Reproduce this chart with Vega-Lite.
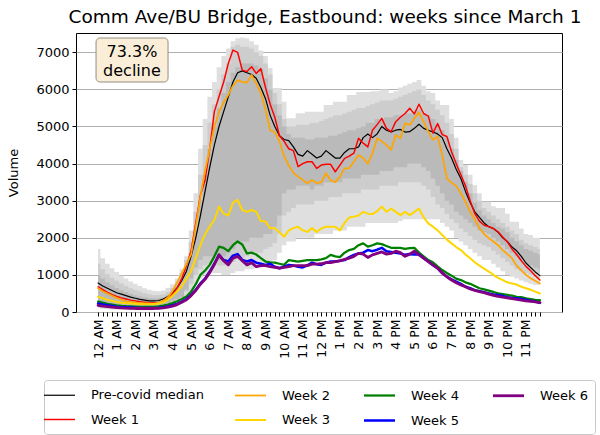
{
"$schema": "https://vega.github.io/schema/vega-lite/v6.json",
"autosize": "none",
"width": 486, "height": 279,
"padding": {"left": 76, "top": 33, "right": 38, "bottom": 123},
"background": "white",
"title": {"text": "Comm Ave/BU Bridge, Eastbound: weeks since March 1", "fontSize": 18.5, "font": "DejaVu Sans", "fontWeight": "normal", "color": "black", "offset": 7, "dx": 6},
"data": {"values": [
{"t":0,"m":780,"w1":680,"w2":640,"w3":410,"w4":280,"w5":230,"w6":180,"a1":100,"b1":1700,"a2":150,"b2":1300,"a3":250,"b3":1000},
{"t":0.25,"m":700,"w1":600,"w2":560,"w3":370,"w4":250,"w5":200,"w6":160,"a1":90,"b1":1450,"a2":130,"b2":1150,"a3":220,"b3":900},
{"t":0.5,"m":640,"w1":530,"w2":500,"w3":330,"w4":220,"w5":180,"w6":145,"a1":80,"b1":1300,"a2":115,"b2":1020,"a3":190,"b3":800},
{"t":0.75,"m":580,"w1":470,"w2":440,"w3":300,"w4":200,"w5":160,"w6":130,"a1":70,"b1":1180,"a2":100,"b2":920,"a3":170,"b3":720},
{"t":1,"m":520,"w1":420,"w2":380,"w3":270,"w4":180,"w5":140,"w6":120,"a1":65,"b1":1080,"a2":95,"b2":840,"a3":155,"b3":650},
{"t":1.25,"m":480,"w1":380,"w2":330,"w3":250,"w4":165,"w5":130,"w6":110,"a1":60,"b1":980,"a2":90,"b2":770,"a3":145,"b3":590},
{"t":1.5,"m":440,"w1":350,"w2":290,"w3":240,"w4":155,"w5":125,"w6":105,"a1":55,"b1":900,"a2":85,"b2":700,"a3":135,"b3":540},
{"t":1.75,"m":400,"w1":320,"w2":270,"w3":230,"w4":150,"w5":120,"w6":100,"a1":50,"b1":820,"a2":80,"b2":640,"a3":125,"b3":490},
{"t":2,"m":370,"w1":300,"w2":250,"w3":220,"w4":145,"w5":115,"w6":95,"a1":50,"b1":760,"a2":80,"b2":590,"a3":120,"b3":450},
{"t":2.25,"m":340,"w1":280,"w2":240,"w3":210,"w4":140,"w5":110,"w6":95,"a1":50,"b1":700,"a2":80,"b2":550,"a3":120,"b3":420},
{"t":2.5,"m":320,"w1":260,"w2":230,"w3":210,"w4":140,"w5":110,"w6":95,"a1":50,"b1":640,"a2":80,"b2":510,"a3":120,"b3":400},
{"t":2.75,"m":300,"w1":250,"w2":230,"w3":210,"w4":140,"w5":110,"w6":95,"a1":50,"b1":600,"a2":80,"b2":480,"a3":120,"b3":380},
{"t":3,"m":300,"w1":240,"w2":220,"w3":210,"w4":140,"w5":110,"w6":95,"a1":55,"b1":570,"a2":85,"b2":460,"a3":125,"b3":370},
{"t":3.25,"m":310,"w1":250,"w2":250,"w3":230,"w4":150,"w5":115,"w6":100,"a1":60,"b1":560,"a2":90,"b2":460,"a3":135,"b3":370},
{"t":3.5,"m":350,"w1":280,"w2":300,"w3":260,"w4":170,"w5":130,"w6":110,"a1":80,"b1":580,"a2":110,"b2":480,"a3":170,"b3":390},
{"t":3.75,"m":420,"w1":350,"w2":400,"w3":330,"w4":200,"w5":150,"w6":130,"a1":110,"b1":650,"a2":150,"b2":540,"a3":230,"b3":440},
{"t":4,"m":520,"w1":480,"w2":560,"w3":440,"w4":240,"w5":180,"w6":160,"a1":150,"b1":750,"a2":200,"b2":650,"a3":300,"b3":550},
{"t":4.25,"m":650,"w1":650,"w2":800,"w3":560,"w4":290,"w5":220,"w6":200,"a1":200,"b1":900,"a2":280,"b2":800,"a3":350,"b3":700},
{"t":4.5,"m":850,"w1":900,"w2":1050,"w3":700,"w4":350,"w5":280,"w6":260,"a1":300,"b1":1150,"a2":400,"b2":1050,"a3":400,"b3":900},
{"t":4.75,"m":1100,"w1":1250,"w2":1300,"w3":900,"w4":420,"w5":350,"w6":330,"a1":400,"b1":1500,"a2":550,"b2":1400,"a3":600,"b3":1200},
{"t":5,"m":1500,"w1":1650,"w2":1550,"w3":1100,"w4":550,"w5":460,"w6":440,"a1":550,"b1":2200,"a2":750,"b2":1900,"a3":900,"b3":1600},
{"t":5.25,"m":2000,"w1":2400,"w2":2300,"w3":1450,"w4":750,"w5":600,"w6":580,"a1":750,"b1":3200,"a2":1000,"b2":2700,"a3":1200,"b3":2200},
{"t":5.5,"m":2600,"w1":3150,"w2":3100,"w3":1800,"w4":1000,"w5":770,"w6":750,"a1":900,"b1":4400,"a2":1150,"b2":3700,"a3":1400,"b3":3000},
{"t":5.75,"m":3250,"w1":3550,"w2":3800,"w3":2100,"w4":1120,"w5":900,"w6":880,"a1":1000,"b1":5200,"a2":1250,"b2":4500,"a3":1500,"b3":3700},
{"t":6,"m":3900,"w1":4400,"w2":4400,"w3":2300,"w4":1270,"w5":1090,"w6":1060,"a1":1050,"b1":5800,"a2":1300,"b2":5100,"a3":1500,"b3":4400},
{"t":6.25,"m":4500,"w1":5400,"w2":5000,"w3":2480,"w4":1500,"w5":1300,"w6":1280,"a1":1050,"b1":6200,"a2":1300,"b2":5600,"a3":1500,"b3":5000},
{"t":6.5,"m":5000,"w1":5800,"w2":5400,"w3":2840,"w4":1760,"w5":1540,"w6":1540,"a1":1050,"b1":6600,"a2":1250,"b2":6000,"a3":1400,"b3":5500},
{"t":6.75,"m":5400,"w1":6200,"w2":5650,"w3":2650,"w4":1730,"w5":1400,"w6":1380,"a1":1000,"b1":6900,"a2":1250,"b2":6400,"a3":1500,"b3":5900},
{"t":7,"m":5800,"w1":6700,"w2":5850,"w3":2600,"w4":1640,"w5":1360,"w6":1270,"a1":1000,"b1":7100,"a2":1300,"b2":6700,"a3":1600,"b3":6200},
{"t":7.25,"m":6200,"w1":7060,"w2":6100,"w3":2950,"w4":1800,"w5":1520,"w6":1450,"a1":1050,"b1":7300,"a2":1350,"b2":7150,"a3":1700,"b3":6450},
{"t":7.5,"m":6450,"w1":7000,"w2":6250,"w3":3020,"w4":1900,"w5":1560,"w6":1500,"a1":1100,"b1":7380,"a2":1450,"b2":7200,"a3":1900,"b3":6600},
{"t":7.75,"m":6500,"w1":6520,"w2":6200,"w3":2750,"w4":1820,"w5":1400,"w6":1380,"a1":1100,"b1":7400,"a2":1450,"b2":7150,"a3":1900,"b3":6700},
{"t":8,"m":6450,"w1":6480,"w2":6180,"w3":2700,"w4":1580,"w5":1360,"w6":1270,"a1":1150,"b1":7380,"a2":1500,"b2":7150,"a3":1900,"b3":6700},
{"t":8.25,"m":6400,"w1":6610,"w2":6390,"w3":2750,"w4":1600,"w5":1400,"w6":1330,"a1":1150,"b1":7300,"a2":1550,"b2":7100,"a3":2000,"b3":6700},
{"t":8.5,"m":6300,"w1":6430,"w2":6160,"w3":2700,"w4":1550,"w5":1330,"w6":1220,"a1":1200,"b1":7200,"a2":1600,"b2":7000,"a3":2000,"b3":6650},
{"t":8.75,"m":6050,"w1":6560,"w2":5900,"w3":2450,"w4":1450,"w5":1300,"w6":1250,"a1":1200,"b1":7050,"a2":1600,"b2":6900,"a3":2000,"b3":6550},
{"t":9,"m":5750,"w1":6050,"w2":5450,"w3":2440,"w4":1360,"w5":1270,"w6":1250,"a1":1250,"b1":6900,"a2":1700,"b2":6700,"a3":2100,"b3":6300},
{"t":9.25,"m":5300,"w1":5600,"w2":4900,"w3":2260,"w4":1340,"w5":1300,"w6":1220,"a1":1300,"b1":6580,"a2":1750,"b2":6400,"a3":2100,"b3":6000},
{"t":9.5,"m":5000,"w1":5250,"w2":4850,"w3":2260,"w4":1330,"w5":1220,"w6":1200,"a1":1400,"b1":6040,"a2":1850,"b2":5900,"a3":2300,"b3":5600},
{"t":9.75,"m":4750,"w1":4750,"w2":4600,"w3":2150,"w4":1300,"w5":1180,"w6":1180,"a1":1600,"b1":6040,"a2":2100,"b2":5600,"a3":2600,"b3":5300},
{"t":10,"m":4650,"w1":4600,"w2":4200,"w3":2030,"w4":1270,"w5":1220,"w6":1200,"a1":1800,"b1":5670,"a2":2600,"b2":5200,"a3":3200,"b3":5000},
{"t":10.25,"m":4620,"w1":4400,"w2":3950,"w3":2200,"w4":1400,"w5":1270,"w6":1220,"a1":1900,"b1":5220,"a2":2700,"b2":5000,"a3":3300,"b3":4800},
{"t":10.5,"m":4450,"w1":4350,"w2":3750,"w3":2260,"w4":1380,"w5":1250,"w6":1250,"a1":1900,"b1":5220,"a2":2800,"b2":5000,"a3":3300,"b3":4700},
{"t":10.75,"m":4250,"w1":3920,"w2":3650,"w3":2300,"w4":1360,"w5":1220,"w6":1250,"a1":2000,"b1":5360,"a2":2900,"b2":5050,"a3":3400,"b3":4700},
{"t":11,"m":4200,"w1":4000,"w2":3560,"w3":2200,"w4":1380,"w5":1200,"w6":1250,"a1":2000,"b1":5360,"a2":2900,"b2":5050,"a3":3400,"b3":4700},
{"t":11.25,"m":4350,"w1":4050,"w2":3470,"w3":2160,"w4":1400,"w5":1260,"w6":1250,"a1":2000,"b1":5400,"a2":2900,"b2":5050,"a3":3400,"b3":4650},
{"t":11.5,"m":4250,"w1":4050,"w2":3560,"w3":2260,"w4":1400,"w5":1330,"w6":1290,"a1":2000,"b1":5400,"a2":2900,"b2":5100,"a3":3300,"b3":4650},
{"t":11.75,"m":4150,"w1":3870,"w2":3470,"w3":2160,"w4":1400,"w5":1290,"w6":1290,"a1":2100,"b1":5400,"a2":3000,"b2":5100,"a3":3400,"b3":4700},
{"t":12,"m":4200,"w1":3960,"w2":3500,"w3":2250,"w4":1420,"w5":1270,"w6":1300,"a1":2100,"b1":5400,"a2":3000,"b2":5150,"a3":3400,"b3":4700},
{"t":12.25,"m":4350,"w1":3980,"w2":3740,"w3":2300,"w4":1450,"w5":1330,"w6":1330,"a1":2100,"b1":5580,"a2":3000,"b2":5200,"a3":3500,"b3":4700},
{"t":12.5,"m":4250,"w1":3980,"w2":3550,"w3":2300,"w4":1540,"w5":1360,"w6":1330,"a1":2100,"b1":5580,"a2":3100,"b2":5250,"a3":3500,"b3":4750},
{"t":12.75,"m":4150,"w1":3780,"w2":3500,"w3":2300,"w4":1500,"w5":1360,"w6":1360,"a1":2200,"b1":5670,"a2":3100,"b2":5300,"a3":3500,"b3":4750},
{"t":13,"m":4150,"w1":3960,"w2":3650,"w3":2200,"w4":1480,"w5":1380,"w6":1380,"a1":2200,"b1":5670,"a2":3100,"b2":5300,"a3":3500,"b3":4800},
{"t":13.25,"m":4300,"w1":4140,"w2":3870,"w3":2400,"w4":1600,"w5":1400,"w6":1420,"a1":2200,"b1":5670,"a2":3200,"b2":5350,"a3":3600,"b3":4850},
{"t":13.5,"m":4400,"w1":4200,"w2":3880,"w3":2550,"w4":1670,"w5":1480,"w6":1450,"a1":2300,"b1":5850,"a2":3200,"b2":5400,"a3":3600,"b3":4900},
{"t":13.75,"m":4400,"w1":4280,"w2":4050,"w3":2570,"w4":1700,"w5":1540,"w6":1500,"a1":2300,"b1":5850,"a2":3200,"b2":5450,"a3":3600,"b3":4900},
{"t":14,"m":4450,"w1":4680,"w2":4230,"w3":2600,"w4":1800,"w5":1580,"w6":1580,"a1":2300,"b1":5930,"a2":3200,"b2":5500,"a3":3600,"b3":4950},
{"t":14.25,"m":4700,"w1":4550,"w2":4150,"w3":2700,"w4":1850,"w5":1600,"w6":1560,"a1":2300,"b1":5930,"a2":3300,"b2":5500,"a3":3700,"b3":5000},
{"t":14.5,"m":4800,"w1":4450,"w2":4000,"w3":2650,"w4":1760,"w5":1670,"w6":1470,"a1":2400,"b1":5930,"a2":3300,"b2":5550,"a3":3700,"b3":5100},
{"t":14.75,"m":4700,"w1":4900,"w2":4280,"w3":2640,"w4":1800,"w5":1640,"w6":1540,"a1":2400,"b1":5950,"a2":3300,"b2":5600,"a3":3700,"b3":5100},
{"t":15,"m":4800,"w1":5050,"w2":4680,"w3":2720,"w4":1850,"w5":1680,"w6":1580,"a1":2400,"b1":5950,"a2":3300,"b2":5650,"a3":3700,"b3":5200},
{"t":15.25,"m":5000,"w1":5220,"w2":4600,"w3":2840,"w4":1830,"w5":1730,"w6":1620,"a1":2400,"b1":6000,"a2":3400,"b2":5700,"a3":3800,"b3":5200},
{"t":15.5,"m":4900,"w1":4950,"w2":4500,"w3":2700,"w4":1780,"w5":1640,"w6":1560,"a1":2400,"b1":6000,"a2":3400,"b2":5700,"a3":3800,"b3":5250},
{"t":15.75,"m":4850,"w1":4860,"w2":4370,"w3":2790,"w4":1730,"w5":1620,"w6":1580,"a1":2400,"b1":5900,"a2":3400,"b2":5700,"a3":3800,"b3":5250},
{"t":16,"m":4900,"w1":5130,"w2":4770,"w3":2700,"w4":1730,"w5":1600,"w6":1640,"a1":2400,"b1":5950,"a2":3400,"b2":5750,"a3":3900,"b3":5300},
{"t":16.25,"m":4920,"w1":5250,"w2":4680,"w3":2610,"w4":1730,"w5":1580,"w6":1600,"a1":2450,"b1":6050,"a2":3500,"b2":5800,"a3":3900,"b3":5300},
{"t":16.5,"m":4850,"w1":5350,"w2":5090,"w3":2700,"w4":1700,"w5":1540,"w6":1500,"a1":2500,"b1":6100,"a2":3500,"b2":5850,"a3":3900,"b3":5350},
{"t":16.75,"m":4860,"w1":5490,"w2":5040,"w3":2610,"w4":1720,"w5":1560,"w6":1560,"a1":2500,"b1":6150,"a2":3500,"b2":5900,"a3":4000,"b3":5350},
{"t":17,"m":4950,"w1":5340,"w2":5220,"w3":2700,"w4":1730,"w5":1550,"w6":1640,"a1":2500,"b1":6200,"a2":3500,"b2":5950,"a3":4000,"b3":5400},
{"t":17.25,"m":5060,"w1":5600,"w2":5380,"w3":2790,"w4":1600,"w5":1560,"w6":1540,"a1":2500,"b1":6250,"a2":3500,"b2":6000,"a3":4000,"b3":5450},
{"t":17.5,"m":4950,"w1":5350,"w2":5130,"w3":2550,"w4":1500,"w5":1450,"w6":1450,"a1":2500,"b1":6100,"a2":3400,"b2":5850,"a3":3900,"b3":5350},
{"t":17.75,"m":4900,"w1":5280,"w2":4860,"w3":2390,"w4":1400,"w5":1360,"w6":1360,"a1":2500,"b1":5950,"a2":3300,"b2":5700,"a3":3800,"b3":5300},
{"t":18,"m":4850,"w1":4820,"w2":4640,"w3":2300,"w4":1340,"w5":1260,"w6":1270,"a1":2500,"b1":5900,"a2":3100,"b2":5600,"a3":3600,"b3":5200},
{"t":18.25,"m":4800,"w1":5080,"w2":4730,"w3":2200,"w4":1230,"w5":1180,"w6":1180,"a1":2500,"b1":5700,"a2":2900,"b2":5450,"a3":3400,"b3":5050},
{"t":18.5,"m":4700,"w1":4780,"w2":4230,"w3":2075,"w4":1130,"w5":1050,"w6":1050,"a1":2400,"b1":5580,"a2":2800,"b2":5300,"a3":3200,"b3":4900},
{"t":18.75,"m":4400,"w1":4730,"w2":3600,"w3":1950,"w4":1050,"w5":950,"w6":950,"a1":2300,"b1":5580,"a2":2650,"b2":5100,"a3":3000,"b3":4700},
{"t":19,"m":4150,"w1":4320,"w2":3480,"w3":1850,"w4":980,"w5":880,"w6":860,"a1":2200,"b1":5200,"a2":2500,"b2":4800,"a3":2900,"b3":4400},
{"t":19.25,"m":3850,"w1":4000,"w2":3400,"w3":1750,"w4":900,"w5":820,"w6":790,"a1":2000,"b1":4700,"a2":2400,"b2":4400,"a3":2700,"b3":4100},
{"t":19.5,"m":3600,"w1":3700,"w2":3200,"w3":1670,"w4":860,"w5":760,"w6":730,"a1":1900,"b1":4100,"a2":2250,"b2":3900,"a3":2600,"b3":3800},
{"t":19.75,"m":3250,"w1":3400,"w2":2970,"w3":1550,"w4":800,"w5":680,"w6":680,"a1":1800,"b1":3960,"a2":2150,"b2":3700,"a3":2500,"b3":3500},
{"t":20,"m":2950,"w1":3000,"w2":2700,"w3":1450,"w4":760,"w5":640,"w6":620,"a1":1700,"b1":3700,"a2":2050,"b2":3450,"a3":2400,"b3":3200},
{"t":20.25,"m":2700,"w1":2650,"w2":2500,"w3":1340,"w4":700,"w5":590,"w6":580,"a1":1600,"b1":3420,"a2":1950,"b2":3200,"a3":2300,"b3":2950},
{"t":20.5,"m":2550,"w1":2450,"w2":2260,"w3":1250,"w4":640,"w5":560,"w6":550,"a1":1500,"b1":3200,"a2":1850,"b2":3000,"a3":2200,"b3":2750},
{"t":20.75,"m":2400,"w1":2340,"w2":2100,"w3":1170,"w4":610,"w5":530,"w6":520,"a1":1400,"b1":2970,"a2":1800,"b2":2800,"a3":2150,"b3":2600},
{"t":21,"m":2300,"w1":2300,"w2":1990,"w3":1090,"w4":575,"w5":500,"w6":480,"a1":1400,"b1":2970,"a2":1750,"b2":2700,"a3":2100,"b3":2500},
{"t":21.25,"m":2250,"w1":2250,"w2":1900,"w3":1000,"w4":540,"w5":470,"w6":450,"a1":1300,"b1":2850,"a2":1650,"b2":2600,"a3":2000,"b3":2400},
{"t":21.5,"m":2150,"w1":2160,"w2":1800,"w3":920,"w4":500,"w5":460,"w6":420,"a1":1200,"b1":2800,"a2":1550,"b2":2500,"a3":1900,"b3":2300},
{"t":21.75,"m":2000,"w1":2020,"w2":1670,"w3":860,"w4":480,"w5":430,"w6":400,"a1":1100,"b1":2800,"a2":1450,"b2":2400,"a3":1800,"b3":2250},
{"t":22,"m":1900,"w1":1890,"w2":1560,"w3":800,"w4":460,"w5":400,"w6":380,"a1":1000,"b1":2650,"a2":1350,"b2":2300,"a3":1700,"b3":2150},
{"t":22.25,"m":1750,"w1":1700,"w2":1450,"w3":770,"w4":440,"w5":380,"w6":360,"a1":950,"b1":2430,"a2":1250,"b2":2200,"a3":1600,"b3":2000},
{"t":22.5,"m":1650,"w1":1550,"w2":1250,"w3":740,"w4":410,"w5":370,"w6":340,"a1":900,"b1":2430,"a2":1150,"b2":2100,"a3":1500,"b3":1900},
{"t":22.75,"m":1500,"w1":1380,"w2":1120,"w3":680,"w4":400,"w5":350,"w6":320,"a1":850,"b1":2250,"a2":1100,"b2":1950,"a3":1400,"b3":1800},
{"t":23,"m":1320,"w1":1230,"w2":1000,"w3":640,"w4":370,"w5":330,"w6":300,"a1":800,"b1":2100,"a2":1050,"b2":1850,"a3":1300,"b3":1700},
{"t":23.25,"m":1200,"w1":1110,"w2":910,"w3":600,"w4":350,"w5":300,"w6":290,"a1":760,"b1":2075,"a2":1000,"b2":1800,"a3":1250,"b3":1650},
{"t":23.5,"m":1080,"w1":980,"w2":840,"w3":550,"w4":330,"w5":280,"w6":270,"a1":730,"b1":2000,"a2":950,"b2":1750,"a3":1200,"b3":1600},
{"t":23.75,"m":980,"w1":860,"w2":770,"w3":500,"w4":320,"w5":250,"w6":250,"a1":730,"b1":2000,"a2":900,"b2":1700,"a3":1150,"b3":1550}
]},
"encoding": {
  "x": {"field": "t", "type": "quantitative", "title": null,
    "scale": {"domain": [-1.1875, 24.9375], "nice": false, "zero": false},
    "axis": {"values": [0,0.25,0.5,0.75,1,1.25,1.5,1.75,2,2.25,2.5,2.75,3,3.25,3.5,3.75,4,4.25,4.5,4.75,5,5.25,5.5,5.75,6,6.25,6.5,6.75,7,7.25,7.5,7.75,8,8.25,8.5,8.75,9,9.25,9.5,9.75,10,10.25,10.5,10.75,11,11.25,11.5,11.75,12,12.25,12.5,12.75,13,13.25,13.5,13.75,14,14.25,14.5,14.75,15,15.25,15.5,15.75,16,16.25,16.5,16.75,17,17.25,17.5,17.75,18,18.25,18.5,18.75,19,19.25,19.5,19.75,20,20.25,20.5,20.75,21,21.25,21.5,21.75,22,22.25,22.5,22.75,23,23.25,23.5,23.75],
      "labelExpr": "datum.value % 1 != 0 ? '' : (datum.value == 0 ? '12 AM' : (datum.value < 12 ? datum.value + ' AM' : (datum.value == 12 ? '12 PM' : (datum.value - 12) + ' PM')))",
      "labelAngle": -90, "labelOverlap": false, "labelBound": false, "labelFlush": false, "grid": false}}
},
"layer": [
  {"mark": {"type": "area", "interpolate": "step", "color": "#dfdfdf"},
   "encoding": {"y": {"field": "a1", "type": "quantitative", "title": "Volume",
      "scale": {"domain": [0, 7520], "nice": false},
      "axis": {"values": [0,1000,2000,3000,4000,5000,6000,7000], "tickCount": 8, "format": "d", "grid": true, "labelOverlap": false}},
    "y2": {"field": "b1"}}},
  {"mark": {"type": "area", "interpolate": "step", "color": "#cdcdcd"},
   "encoding": {"y": {"field": "a2", "type": "quantitative", "title": "Volume",
      "axis": {"values": [0,1000,2000,3000,4000,5000,6000,7000], "tickCount": 8, "format": "d", "grid": true, "labelOverlap": false}}, "y2": {"field": "b2"}}},
  {"mark": {"type": "area", "interpolate": "step", "color": "#bababa"},
   "encoding": {"y": {"field": "a3", "type": "quantitative", "title": "Volume",
      "axis": {"values": [0,1000,2000,3000,4000,5000,6000,7000], "tickCount": 8, "format": "d", "grid": true, "labelOverlap": false}}, "y2": {"field": "b3"}}},
  {"transform": [{"fold": ["m","w1","w2","w3","w4","w5","w6"], "as": ["series","v"]}],
   "mark": {"type": "line", "strokeJoin": "round", "strokeCap": "round"},
   "encoding": {
     "y": {"field": "v", "type": "quantitative", "title": "Volume",
      "axis": {"values": [0,1000,2000,3000,4000,5000,6000,7000], "tickCount": 8, "format": "d", "grid": true, "labelOverlap": false}},
     "color": {"field": "series", "type": "nominal",
       "scale": {"domain": ["m","w1","w2","w3","w4","w5","w6"], "range": ["#000000","#ff0000","#ffa500","#ffd700","#008000","#0000ff","#800080"]},
       "legend": {"labelExpr": "datum.label == 'm' ? 'Pre-covid median' : 'Week ' + substring(datum.label, 1)"}},
     "strokeWidth": {"field": "series", "type": "nominal",
       "scale": {"domain": ["m","w1","w2","w3","w4","w5","w6"], "range": [1.2,2.8,2.8,2.8,2.8,2.8,2.8]},
       "legend": {"labelExpr": "datum.label == 'm' ? 'Pre-covid median' : 'Week ' + substring(datum.label, 1)"}}
   }},
  {"transform": [{"filter": "datum.t == 0"}],
   "mark": {"type": "rect", "fill": "#faeed8", "stroke": "#958d80", "strokeWidth": 1, "cornerRadius": 4},
   "encoding": {"x": {"datum": -0.11, "type": "quantitative"}, "x2": {"datum": 3.76},
     "y": {"datum": 7385, "type": "quantitative", "title": "Volume", "axis": {"values": [0,1000,2000,3000,4000,5000,6000,7000], "tickCount": 8, "format": "d", "grid": true, "labelOverlap": false}}, "y2": {"datum": 6199}}},
  {"transform": [{"filter": "datum.t == 0"}],
   "mark": {"type": "text", "fontSize": 16, "font": "DejaVu Sans", "lineHeight": 19, "align": "center", "baseline": "middle", "color": "black"},
   "encoding": {"x": {"datum": 1.82, "type": "quantitative"},
     "y": {"datum": 7008, "type": "quantitative", "title": "Volume", "axis": {"values": [0,1000,2000,3000,4000,5000,6000,7000], "tickCount": 8, "format": "d", "grid": true, "labelOverlap": false}},
     "text": {"value": ["73.3%", "decline"]}}}
],
"config": {
  "font": "DejaVu Sans",
  "view": {"stroke": "black", "strokeWidth": 1},
  "axis": {"domain": false, "tickColor": "black", "labelColor": "black", "titleColor": "black", "labelFont": "DejaVu Sans", "titleFont": "DejaVu Sans", "titleFontWeight": "normal", "tickSize": 4},
  "axisY": {"gridColor": "#b0b0b0", "gridWidth": 1, "labelFontSize": 13, "titleFontSize": 13, "labelPadding": 3, "titlePadding": 15, "tickCount": 8},
  "axisX": {"labelFontSize": 12.5, "labelPadding": 3},
  "legend": {"orient": "none", "legendX": -32, "legendY": 347, "columns": 4, "title": null,
    "symbolType": "M-2,0H2", "symbolSize": 240, "symbolStrokeWidth": 2.8, "symbolFillColor": "transparent", "labelFontSize": 13, "labelFont": "DejaVu Sans", "labelColor": "black",
    "columnPadding": 27, "rowPadding": 8, "labelOffset": 22, "padding": 6,
    "strokeColor": "#c8c8c8", "fillColor": "white", "cornerRadius": 3}
}
}
